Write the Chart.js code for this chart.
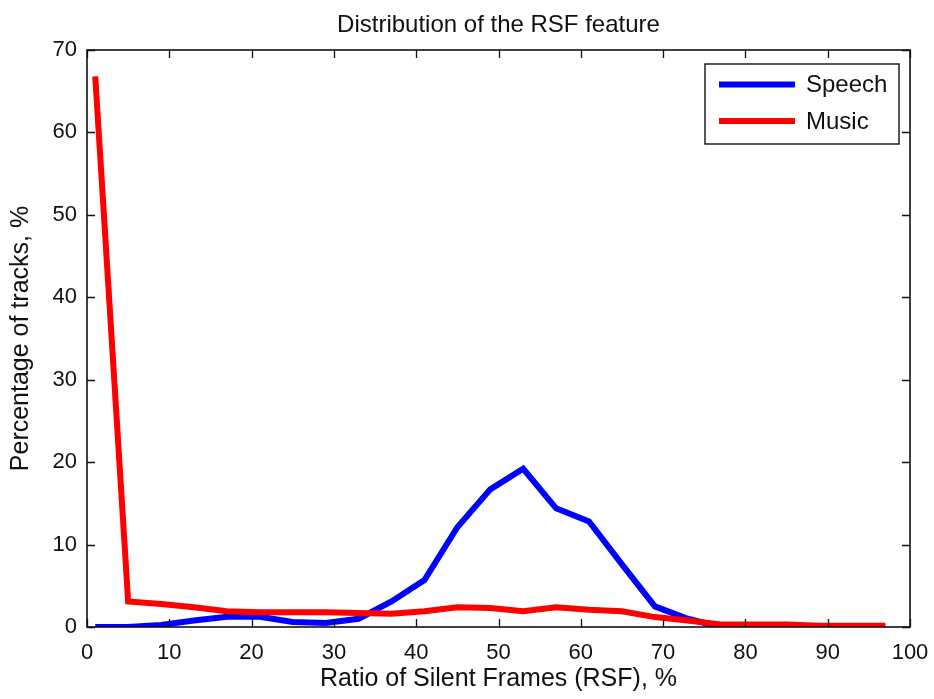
<!DOCTYPE html>
<html>
<head>
<meta charset="utf-8">
<script src="https://cdn.jsdelivr.net/npm/chart.js@4/dist/chart.umd.min.js"></script>
<style>
  html, body { margin: 0; padding: 0; background: #fff; }
  #wrap { width: 934px; height: 699px; }
</style>
</head>
<body>
<div id="wrap"><canvas id="c" width="934" height="699"></canvas></div>
<script>
// Histogram bin centres (RSF, %)
const rsfBins = [1, 5, 9, 13, 17, 21, 25, 29, 33, 37, 41, 45, 49, 53, 57, 61, 65, 69, 73, 77, 81, 85, 89, 93, 97];
// Percentage of speech tracks per bin
const speechPct = [0, 0, 0.25, 0.8, 1.25, 1.25, 0.6, 0.5, 1.0, 3.1, 5.7, 12.1, 16.7, 19.2, 14.4, 12.8, 7.6, 2.5, 1.0, 0, 0, 0, 0, 0, 0];
// Percentage of music tracks per bin
const musicPct = [66.8, 3.1, 2.8, 2.4, 1.9, 1.8, 1.8, 1.8, 1.7, 1.6, 1.9, 2.4, 2.3, 1.9, 2.4, 2.1, 1.9, 1.2, 0.8, 0.3, 0.3, 0.3, 0.15, 0.15, 0.15];
// Axis tick values
const xTickValues = [0, 10, 20, 30, 40, 50, 60, 70, 80, 90, 100];
const yTickValues = [0, 10, 20, 30, 40, 50, 60, 70];

const seriesNames = ['Speech', 'Music'];
const seriesColors = ['#0000ff', '#ff0000'];

const FONT = '"Liberation Sans", Arial, Helvetica, sans-serif';
const INK = '#111';

// Axes box with inward tick marks on all four sides, plus an in-plot legend
const boxPlugin = {
  id: 'matlabBox',
  afterDatasetsDraw(chart) {
    const { ctx, chartArea: a, scales } = chart;
    const tick = 8;
    ctx.save();
    ctx.strokeStyle = INK;
    ctx.lineWidth = 1.6;
    ctx.strokeRect(a.left, a.top, a.right - a.left, a.bottom - a.top);
    ctx.beginPath();
    scales.x.ticks.forEach(t => {
      const px = Math.round(scales.x.getPixelForValue(t.value)) + 0.5;
      ctx.moveTo(px, a.bottom); ctx.lineTo(px, a.bottom - tick);
      ctx.moveTo(px, a.top); ctx.lineTo(px, a.top + tick);
    });
    scales.y.ticks.forEach(t => {
      const py = Math.round(scales.y.getPixelForValue(t.value)) + 0.5;
      ctx.moveTo(a.left, py); ctx.lineTo(a.left + tick, py);
      ctx.moveTo(a.right, py); ctx.lineTo(a.right - tick, py);
    });
    ctx.lineWidth = 1.3;
    ctx.stroke();

    // legend
    const lw = 194, lh = 80;
    const lx = a.right - 11 - lw, ly = a.top + 14;
    ctx.fillStyle = '#fff';
    ctx.fillRect(lx, ly, lw, lh);
    ctx.lineWidth = 1.4;
    ctx.strokeStyle = INK;
    ctx.strokeRect(lx, ly, lw, lh);
    ctx.font = '24px ' + FONT;
    ctx.textBaseline = 'middle';
    ctx.textAlign = 'left';
    seriesNames.forEach((name, i) => {
      const cy = ly + 20.5 + i * 36.5;
      ctx.strokeStyle = seriesColors[i];
      ctx.lineWidth = 6;
      ctx.beginPath();
      ctx.moveTo(lx + 14, cy); ctx.lineTo(lx + 90, cy);
      ctx.stroke();
      ctx.fillStyle = INK;
      ctx.fillText(name, lx + 101, cy + 1);
    });
    ctx.restore();
  }
};

new Chart(document.getElementById('c'), {
  type: 'line',
  data: {
    datasets: [
      {
        label: seriesNames[0],
        data: rsfBins.map((x, i) => ({ x, y: speechPct[i] })),
        borderColor: seriesColors[0],
        borderWidth: 6,
        pointRadius: 0,
        tension: 0,
        clip: 0,
        order: 2
      },
      {
        label: seriesNames[1],
        data: rsfBins.map((x, i) => ({ x, y: musicPct[i] })),
        borderColor: seriesColors[1],
        borderWidth: 6,
        pointRadius: 0,
        tension: 0,
        clip: 0,
        order: 1
      }
    ]
  },
  options: {
    responsive: false,
    animation: false,
    devicePixelRatio: 1,
    layout: { padding: { top: 0, right: 24, bottom: 0, left: 0 } },
    plugins: {
      legend: { display: false },
      tooltip: { enabled: false },
      title: {
        display: true,
        text: 'Distribution of the RSF feature',
        color: INK,
        fullSize: false,
        font: { family: FONT, size: 24, weight: 'normal', lineHeight: 1.2 },
        padding: { top: 11, bottom: 10.2 }
      }
    },
    scales: {
      x: {
        type: 'linear',
        min: 0,
        max: 100,
        afterBuildTicks: s => { s.ticks = xTickValues.map(v => ({ value: v })); },
        afterFit: s => { s.height = 72; s.paddingLeft = 0; s.paddingRight = 0; },
        grid: { display: false, drawTicks: false },
        border: { display: false },
        ticks: {
          color: INK,
          padding: 13,
          maxRotation: 0,
          font: { family: FONT, size: 22 }
        },
        title: {
          display: true,
          text: 'Ratio of Silent Frames (RSF), %',
          color: INK,
          font: { family: FONT, size: 25, lineHeight: 1.2 },
          padding: { top: 0, bottom: 5 }
        }
      },
      y: {
        type: 'linear',
        min: 0,
        max: 70,
        afterBuildTicks: s => { s.ticks = yTickValues.map(v => ({ value: v })); },
        afterFit: s => { s.width = 87; s.paddingTop = 0; s.paddingBottom = 0; },
        grid: { display: false, drawTicks: false },
        border: { display: false },
        ticks: {
          color: INK,
          padding: 10,
          font: { family: FONT, size: 22 }
        },
        title: {
          display: true,
          text: 'Percentage of tracks, %',
          color: INK,
          font: { family: FONT, size: 25, lineHeight: 1.2 },
          padding: { top: 6, bottom: 0 }
        }
      }
    }
  },
  plugins: [boxPlugin]
});
</script>
</body>
</html>
